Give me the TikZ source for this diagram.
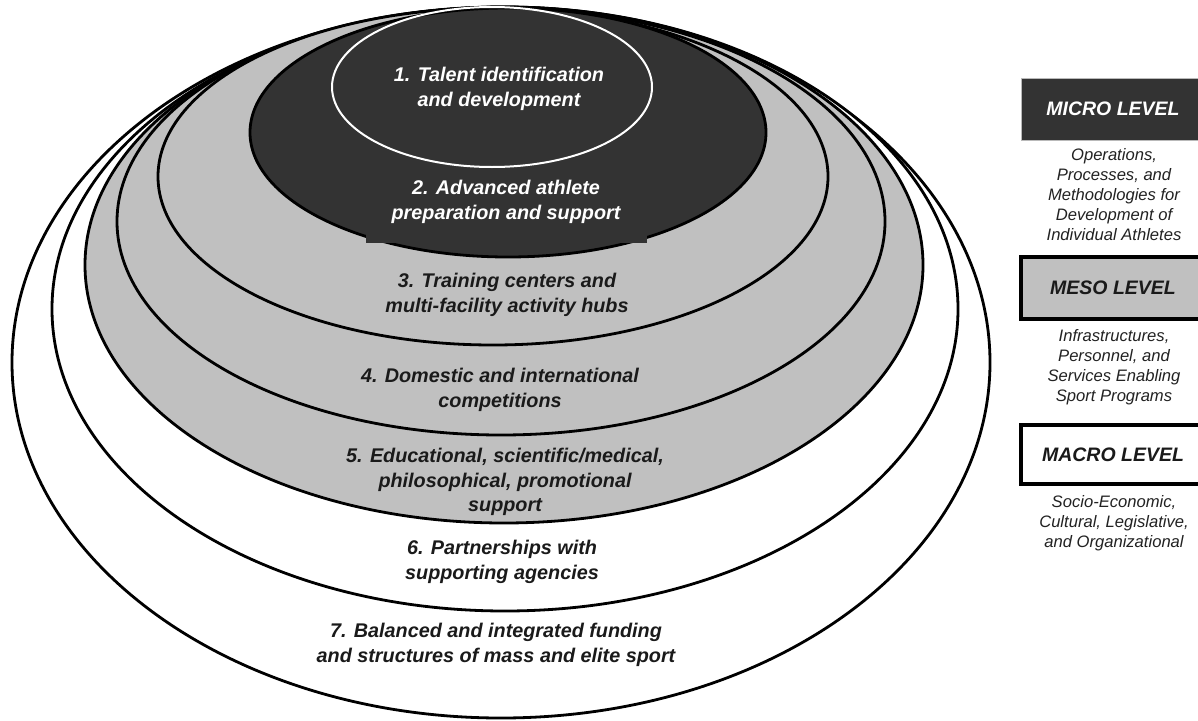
\documentclass[tikz,border=0pt]{standalone}
\usepackage{fontspec}
\setmainfont{Liberation Sans}
\definecolor{darkfill}{HTML}{333333}
\definecolor{midfill}{HTML}{C0C0C0}
\definecolor{txt}{HTML}{1A1A1A}
\definecolor{desc}{HTML}{222222}
\begin{document}
\begin{tikzpicture}[x=1pt,y=-1pt,
  ring/.style={draw=black,line width=2.8pt},
  lab/.style={align=center,font=\fontsize{19.8}{24.5}\selectfont\bfseries\itshape,text=txt,inner sep=0pt},
  whitelab/.style={lab,text=white},
  levelbox/.style={minimum width=184pt,inner sep=0pt,font=\fontsize{19.5}{22}\selectfont\bfseries\itshape},
  desctext/.style={align=center,font=\fontsize{16.6}{20}\selectfont\itshape,text=desc,inner sep=0pt}]
\useasboundingbox (0,0) rectangle (1198,720);
\fill[white] (0,0) rectangle (1198,720);
\begin{scope}
\clip (0,0) rectangle (1198,720);
% rings, outermost first
\path[ring,fill=white]   (501,362.5) ellipse [x radius=489,y radius=355.5];
\path[ring,fill=white]   (505,309)   ellipse [x radius=453,y radius=302];
\path[ring,fill=midfill] (504,265)   ellipse [x radius=419,y radius=258];
\path[ring,fill=midfill] (501,221.5) ellipse [x radius=384,y radius=213.5];
\path[ring,fill=midfill] (493,176.5) ellipse [x radius=335,y radius=168.5];
\path[ring,fill=darkfill] (508,132.5) ellipse [x radius=258,y radius=124.5];
\fill[darkfill] (366,170) rectangle (647,243);
\path[draw=white,line width=2pt] (492,87) ellipse [x radius=160,y radius=80];

% ring labels
\node[whitelab] (l1) at (499,89)  {1. Talent identification\\and development};
\node[whitelab] (l2) at (506,202) {2. Advanced athlete\\preparation and support};
\node[lab] (l3) at (507,295) {3. Training centers and\\multi-facility activity hubs};
\node[lab] (l4) at (500,390) {4. Domestic and international\\competitions};
\node[lab] (l5) at (505,482) {5. Educational, scientific/medical,\\philosophical, promotional\\support};
\node[lab] (l6) at (502,562) {6. Partnerships with\\supporting agencies};
\node[lab] (l7) at (496,645) {7. Balanced and integrated funding\\and structures of mass and elite sport};

% level boxes
\node[levelbox,draw=gray!55,line width=0.8pt,fill=darkfill,text=white,minimum height=62pt] (micro) at (1113,109) {MICRO LEVEL};
\node[desctext] (microd) at (1114,195) {Operations,\\Processes, and\\Methodologies for\\Development of\\Individual Athletes};
\node[levelbox,draw=black,line width=4pt,fill=midfill,text=txt,minimum height=62pt] (meso) at (1113,288) {MESO LEVEL};
\node[desctext] (mesod) at (1114,367) {Infrastructures,\\Personnel, and\\Services Enabling\\Sport Programs};
\node[levelbox,draw=black,line width=4pt,fill=white,text=txt,minimum height=59pt] (macro) at (1113,454.5) {MACRO LEVEL};
\node[desctext] (macrod) at (1114,523) {Socio-Economic,\\Cultural, Legislative,\\and Organizational};
\end{scope}
\end{tikzpicture}
\end{document}
